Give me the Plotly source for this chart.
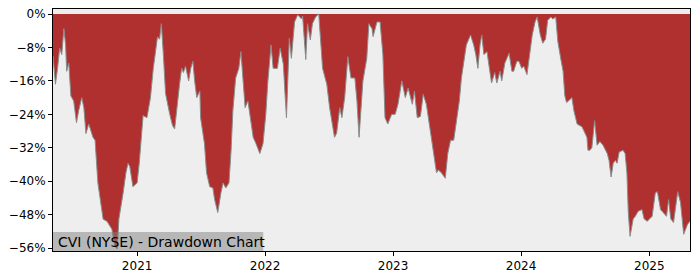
import pandas as pd
import plotly.graph_objects as go

# Drawdown values (percent)
dates = [
    "2020-05-06", "2020-05-13", "2020-05-19", "2020-05-25", "2020-05-31", "2020-06-06", "2020-06-11",
    "2020-06-14", "2020-06-20", "2020-06-26", "2020-07-04", "2020-07-12", "2020-07-18", "2020-07-27",
    "2020-08-02", "2020-08-08", "2020-08-16", "2020-08-28", "2020-09-03", "2020-09-11", "2020-09-26",
    "2020-10-07", "2020-10-21", "2020-10-29", "2020-11-05", "2020-11-10", "2020-11-22", "2020-11-30",
    "2020-12-06", "2020-12-11", "2020-12-20",
    "2021-01-01", "2021-01-07", "2021-01-12", "2021-01-18", "2021-01-29", "2021-02-08", "2021-02-16",
    "2021-02-25", "2021-02-28", "2021-03-06", "2021-03-11", "2021-03-17", "2021-03-23", "2021-04-04",
    "2021-04-12", "2021-04-18", "2021-04-24", "2021-05-02", "2021-05-08", "2021-05-13", "2021-05-19",
    "2021-05-28", "2021-06-03", "2021-06-09", "2021-06-14", "2021-06-20", "2021-06-29", "2021-07-01",
    "2021-07-12", "2021-07-18", "2021-07-27", "2021-08-05", "2021-08-10", "2021-08-19", "2021-08-28",
    "2021-09-03", "2021-09-11", "2021-09-20", "2021-09-26", "2021-10-01", "2021-10-09", "2021-10-18",
    "2021-10-24", "2021-10-29", "2021-11-05", "2021-11-13", "2021-11-22", "2021-11-28", "2021-12-06",
    "2021-12-17", "2021-12-26",
    "2022-01-03", "2022-01-09", "2022-01-18", "2022-01-24", "2022-02-05", "2022-02-13", "2022-02-22",
    "2022-02-28", "2022-03-03", "2022-03-11", "2022-03-17", "2022-03-26", "2022-04-04", "2022-04-15",
    "2022-04-18", "2022-04-27", "2022-05-02", "2022-05-10", "2022-05-16", "2022-05-25", "2022-06-03",
    "2022-06-14", "2022-06-26", "2022-07-04", "2022-07-18", "2022-07-24", "2022-08-02", "2022-08-08",
    "2022-08-16", "2022-08-25", "2022-09-03", "2022-09-14", "2022-09-20", "2022-09-26", "2022-10-04",
    "2022-10-07", "2022-10-18", "2022-10-24", "2022-11-02", "2022-11-05", "2022-11-16", "2022-11-25",
    "2022-12-03", "2022-12-09", "2022-12-17", "2022-12-28",
    "2023-01-07", "2023-01-15", "2023-01-26", "2023-02-05", "2023-02-13", "2023-02-25", "2023-03-03",
    "2023-03-11", "2023-03-20", "2023-03-28", "2023-04-06", "2023-04-12", "2023-04-18", "2023-04-27",
    "2023-05-05", "2023-05-10", "2023-05-19", "2023-05-30", "2023-06-06", "2023-06-14", "2023-06-23",
    "2023-07-01", "2023-07-09", "2023-07-15", "2023-07-24", "2023-07-29", "2023-08-10", "2023-08-19",
    "2023-08-25", "2023-08-31", "2023-09-06", "2023-09-11", "2023-09-17", "2023-09-26", "2023-10-01",
    "2023-10-09", "2023-10-18", "2023-10-24", "2023-11-02", "2023-11-07", "2023-11-16", "2023-11-28",
    "2023-12-06", "2023-12-11", "2023-12-20", "2023-12-26",
    "2024-01-03", "2024-01-09", "2024-01-18", "2024-01-24", "2024-02-02", "2024-02-10", "2024-02-16",
    "2024-02-25", "2024-03-03", "2024-03-11", "2024-03-17", "2024-03-26", "2024-04-01", "2024-04-09",
    "2024-04-15", "2024-04-24", "2024-04-30", "2024-05-05", "2024-05-10", "2024-05-19", "2024-05-25",
    "2024-05-31", "2024-06-09", "2024-06-23", "2024-07-01", "2024-07-07", "2024-07-10", "2024-07-15",
    "2024-07-21", "2024-07-29", "2024-08-05", "2024-08-13", "2024-08-22", "2024-09-03", "2024-09-08",
    "2024-09-14", "2024-09-20", "2024-09-26", "2024-10-01", "2024-10-07", "2024-10-18", "2024-10-24",
    "2024-10-29", "2024-11-02", "2024-11-07", "2024-11-16", "2024-11-22", "2024-11-30", "2024-12-11",
    "2024-12-17", "2024-12-26",
    "2025-01-01", "2025-01-09", "2025-01-18", "2025-01-24", "2025-02-02", "2025-02-10", "2025-02-19",
    "2025-02-25", "2025-03-03", "2025-03-11", "2025-03-23", "2025-03-31", "2025-04-09", "2025-04-20",
    "2025-04-27",
]

drawdown = [
    -10.0, -16.8, -13.0, -8.2, -9.7, -3.5, -7.4,
    -13.7, -11.7, -19.6, -20.8, -26.0, -23.2, -20.0,
    -22.4, -28.6, -26.3, -29.5, -30.2, -40.4, -49.1,
    -49.6, -51.5, -55.5, -56.2, -49.0, -42.8, -38.0,
    -35.7, -36.5, -41.3,
    -40.4, -35.7, -30.2, -24.3, -24.8, -20.0, -13.0,
    -7.4, -5.5, -6.0, -2.3, -10.0, -19.0, -24.0,
    -26.7, -27.5, -22.4, -16.8, -13.0, -14.0, -12.5,
    -16.0, -13.0, -11.3, -16.0, -20.0, -18.4, -24.8,
    -31.0, -38.0, -41.3, -41.6, -44.4, -47.5, -42.8,
    -40.4, -41.6, -40.4, -32.6, -23.2, -15.3, -13.0,
    -9.0, -14.5, -22.4, -20.8, -26.3, -29.5, -31.0,
    -33.4, -31.0,
    -24.0, -16.0, -7.4, -13.0, -13.0, -8.2, -12.0,
    -20.8, -24.8, -5.8, -10.6, -1.9, -0.2, -1.2,
    -0.5, -10.9, -2.3, -6.2, -2.3, -0.7, 0.0,
    -13.0, -16.8, -22.4, -29.5, -28.5, -22.4, -24.8,
    -20.0, -10.2, -15.3, -15.3, -20.8, -29.5, -20.8,
    -16.0, -10.6, -2.3, -3.5, -5.4, -1.9, -1.9,
    -9.7, -24.8, -26.3, -24.0,
    -24.0, -21.6, -16.0, -20.0, -17.7, -21.6, -18.4,
    -24.8, -24.5, -19.2, -21.6, -24.8, -28.6, -33.4,
    -38.0, -37.3, -38.0, -39.3, -33.4, -30.2, -30.2,
    -25.5, -20.8, -15.3, -9.7, -7.4, -5.0, -7.4,
    -9.7, -13.0, -7.4, -5.0, -9.7, -9.0, -12.0,
    -16.5, -14.0, -16.5, -13.7, -16.0, -11.7, -9.4,
    -13.7, -13.7, -11.3, -11.3,
    -13.0, -12.5, -14.5, -10.5, -5.0, -1.9, -0.7,
    -5.0, -7.0, -6.0, -1.5, -0.7, -1.2, -0.7,
    -6.6, -11.0, -13.7, -19.6, -21.2, -20.5, -20.0,
    -23.2, -26.3, -27.0, -28.6, -29.5, -32.6, -32.6,
    -32.0, -25.5, -31.4, -30.5, -31.4, -33.4, -35.0,
    -39.0, -35.7, -35.0, -35.7, -33.0, -32.6, -33.4,
    -38.0, -47.5, -53.2, -49.0, -48.4, -47.2, -46.8,
    -49.0, -49.6,
    -49.0, -48.4, -42.8, -42.5, -46.8, -47.5, -48.4,
    -44.4, -49.0, -49.9, -42.5, -45.1, -52.7, -50.3,
    -49.6,
]

y_ticks = [0, -8, -16, -24, -32, -40, -48, -56]
y_tick_labels = ["0%", "−8%", "−16%", "−24%", "−32%", "−40%", "−48%", "−56%"]
x_ticks = ["2021-01-01", "2022-01-01", "2023-01-01", "2024-01-01", "2025-01-01"]
x_tick_labels = ["2021", "2022", "2023", "2024", "2025"]
label_text = "CVI (NYSE) - Drawdown Chart"

x = pd.to_datetime(dates)

fig = go.Figure()
fig.add_trace(go.Scatter(
    x=x, y=drawdown, mode="lines", fill="tozeroy",
    fillcolor="rgb(176,48,48)",
    line=dict(color="rgb(140,140,140)", width=1),
    hoverinfo="skip", showlegend=False,
))

axis_common = dict(
    showline=True, linecolor="black", linewidth=1, mirror=True,
    ticks="outside", ticklen=4, tickcolor="black", tickwidth=1,
    showgrid=False, zeroline=False,
    tickfont=dict(family="DejaVu Sans", size=12, color="black"),
)

fig.update_layout(
    width=700, height=280,
    margin=dict(l=53, r=10, t=7, b=28),
    paper_bgcolor="white", plot_bgcolor="#EEEEEE",
    xaxis=dict(range=[x.min(), x.max()], tickvals=pd.to_datetime(x_ticks),
               ticktext=x_tick_labels, **axis_common),
    yaxis=dict(range=[-56.7, 1.2], tickvals=y_ticks, ticktext=y_tick_labels,
               **axis_common),
    shapes=[dict(type="rect", xref="paper", yref="paper", x0=0, x1=0.33, y0=0, y1=0.078,
                 fillcolor="rgba(128,128,128,0.5)", line=dict(width=0), layer="above")],
    annotations=[dict(text=label_text, xref="paper", yref="paper", x=0, y=0.039,
                      xanchor="left", yanchor="middle", xshift=3, showarrow=False,
                      font=dict(family="DejaVu Sans", size=14, color="black"))],
)

fig.write_html("out.html")
